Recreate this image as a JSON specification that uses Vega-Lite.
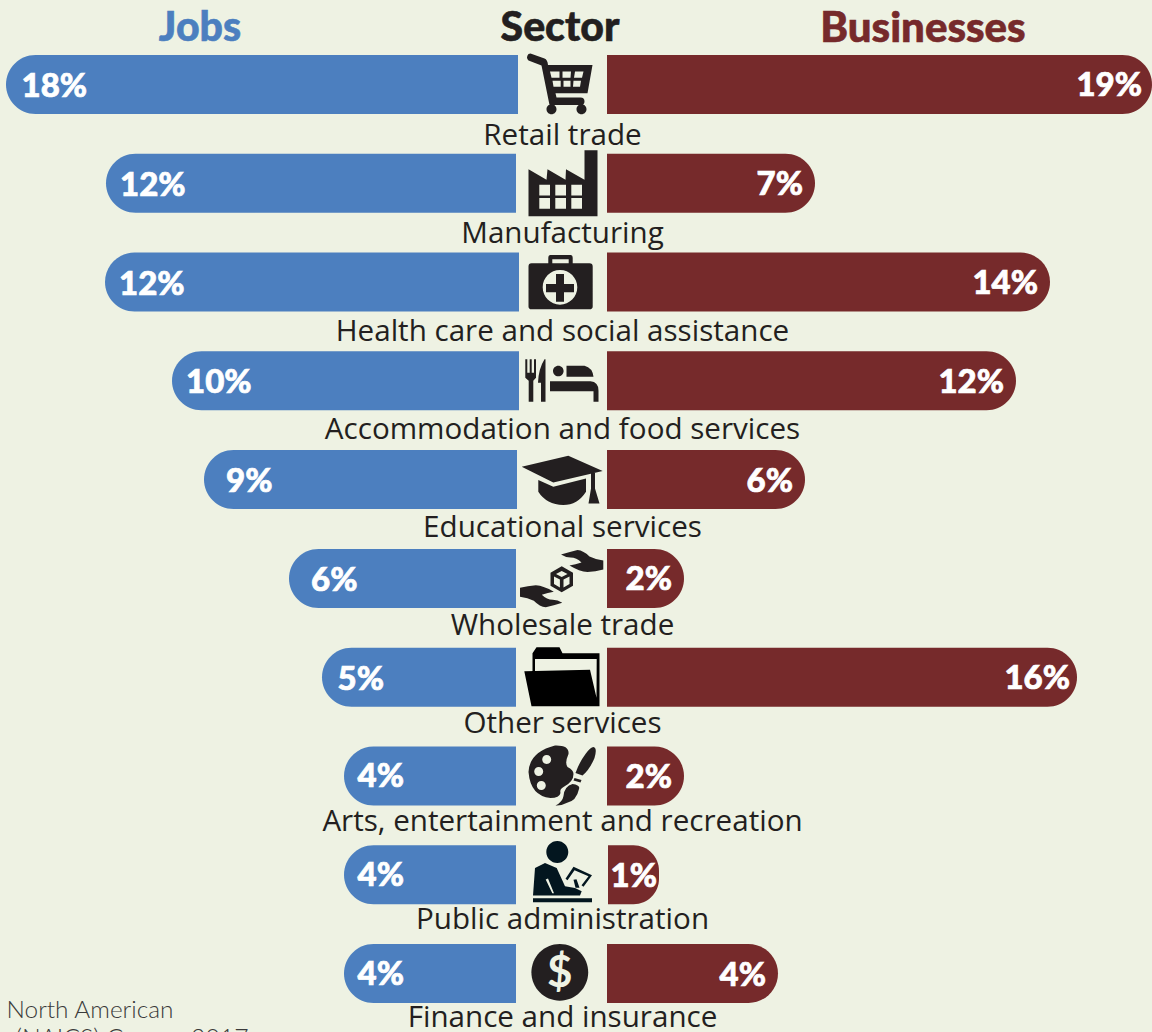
{
"$schema":"https://vega.github.io/schema/vega-lite/v6.json",
"width":1152,"height":1032,"autosize":{"type":"none"},"padding":0,
"background":"#EEF2E3",
"config":{"view":{"stroke":null}},
"data":{"values":[
{"sector":"Retail trade","jobs":"18%","businesses":"19%","jobs_start":-44.5,"jobs_end":-556.5,"biz_start":44.5,"biz_end":589.5},
{"sector":"Manufacturing","jobs":"12%","businesses":"7%","jobs_start":-46.5,"jobs_end":-456.5,"biz_start":44.5,"biz_end":252.5},
{"sector":"Health care and social assistance","jobs":"12%","businesses":"14%","jobs_start":-43.5,"jobs_end":-457.5,"biz_start":44.5,"biz_end":487.5},
{"sector":"Accommodation and food services","jobs":"10%","businesses":"12%","jobs_start":-43.5,"jobs_end":-390.5,"biz_start":44.5,"biz_end":453.5},
{"sector":"Educational services","jobs":"9%","businesses":"6%","jobs_start":-45.5,"jobs_end":-358.5,"biz_start":44.5,"biz_end":242.5},
{"sector":"Wholesale trade","jobs":"6%","businesses":"2%","jobs_start":-46.5,"jobs_end":-273.5,"biz_start":44.5,"biz_end":121.5},
{"sector":"Other services","jobs":"5%","businesses":"16%","jobs_start":-46.5,"jobs_end":-240.5,"biz_start":44.5,"biz_end":514.5},
{"sector":"Arts, entertainment and recreation","jobs":"4%","businesses":"2%","jobs_start":-46.5,"jobs_end":-218.5,"biz_start":44.5,"biz_end":121.5},
{"sector":"Public administration","jobs":"4%","businesses":"1%","jobs_start":-46.5,"jobs_end":-218.5,"biz_start":45.5,"biz_end":96.5},
{"sector":"Finance and insurance","jobs":"4%","businesses":"4%","jobs_start":-46.5,"jobs_end":-218.5,"biz_start":44.5,"biz_end":215.5}
]},
"resolve":{"scale":{"y":"independent"}},
"layer":[
{
"encoding":{"y":{"field":"sector","type":"nominal","axis":null,"scale":{"type":"band","paddingInner":0,"paddingOuter":0,"range":[35.11,1022.9],"domain":["Retail trade","Manufacturing","Health care and social assistance","Accommodation and food services","Educational services","Wholesale trade","Other services","Arts, entertainment and recreation","Public administration","Finance and insurance"]}}},
"layer":[
{"mark":{"type":"bar","size":59,"color":"#4C7FBF","cornerRadiusTopLeft":29.5,"cornerRadiusBottomLeft":29.5},
 "encoding":{"x":{"field":"jobs_end","type":"quantitative","axis":null,"scale":{"domain":[-562.5,589.5],"range":[0,1152],"nice":false,"zero":false}},"x2":{"field":"jobs_start"}}},
{"mark":{"type":"bar","size":59,"color":"#762A2B","cornerRadiusTopRight":29.5,"cornerRadiusBottomRight":29.5},
 "encoding":{"x":{"field":"biz_start","type":"quantitative","axis":null},"x2":{"field":"biz_end"}}},
{"transform":[{"filter":"datum.jobs!='10%' && datum.jobs!='9%' && datum.jobs!='6%' && datum.jobs!='4%' && datum.sector!='Manufacturing' && datum.sector!='Health care and social assistance'"}],
 "mark":{"type":"text","align":"left","baseline":"middle","dx":15.5,"dy":2.5,"font":"Lato","fontWeight":900,"fontSize":33,"color":"#FFFFFF","stroke":"#FFFFFF","strokeWidth":0.7},
 "encoding":{"x":{"field":"jobs_end","type":"quantitative","axis":null},"text":{"field":"jobs"}}},
{"transform":[{"filter":"datum.jobs=='12%' || datum.jobs=='10%'"}],
 "mark":{"type":"text","align":"left","baseline":"middle","dx":14,"dy":2.5,"font":"Lato","fontWeight":900,"fontSize":33,"color":"#FFFFFF","stroke":"#FFFFFF","strokeWidth":0.7},
 "encoding":{"x":{"field":"jobs_end","type":"quantitative","axis":null},"text":{"field":"jobs"}}},
{"transform":[{"filter":"datum.jobs=='4%'"}],
 "mark":{"type":"text","align":"left","baseline":"middle","dx":13.5,"dy":1.5,"font":"Lato","fontWeight":900,"fontSize":33,"color":"#FFFFFF","stroke":"#FFFFFF","strokeWidth":0.7},
 "encoding":{"x":{"field":"jobs_end","type":"quantitative","axis":null},"text":{"field":"jobs"}}},
{"transform":[{"filter":"datum.jobs=='9%' || datum.jobs=='6%'"}],
 "mark":{"type":"text","align":"left","baseline":"middle","dx":22,"dy":2.5,"font":"Lato","fontWeight":900,"fontSize":33,"color":"#FFFFFF","stroke":"#FFFFFF","strokeWidth":0.7},
 "encoding":{"x":{"field":"jobs_end","type":"quantitative","axis":null},"text":{"field":"jobs"}}},
{"transform":[{"filter":"datum.businesses!='16%' && datum.businesses!='1%' && datum.businesses!='19%'"}],
 "mark":{"type":"text","align":"right","baseline":"middle","dx":-12,"dy":2,"font":"Lato","fontWeight":900,"fontSize":33,"color":"#FFFFFF","stroke":"#FFFFFF","strokeWidth":0.7},
 "encoding":{"x":{"field":"biz_end","type":"quantitative","axis":null},"text":{"field":"businesses"}}},
{"transform":[{"filter":"datum.businesses=='19%'"}],
 "mark":{"type":"text","align":"right","baseline":"middle","dx":-10,"dy":2,"font":"Lato","fontWeight":900,"fontSize":33,"color":"#FFFFFF","stroke":"#FFFFFF","strokeWidth":0.7},
 "encoding":{"x":{"field":"biz_end","type":"quantitative","axis":null},"text":{"field":"businesses"}}},
{"transform":[{"filter":"datum.businesses=='16%'"}],
 "mark":{"type":"text","align":"right","baseline":"middle","dx":-7,"dy":2,"font":"Lato","fontWeight":900,"fontSize":33,"color":"#FFFFFF","stroke":"#FFFFFF","strokeWidth":0.7},
 "encoding":{"x":{"field":"biz_end","type":"quantitative","axis":null},"text":{"field":"businesses"}}},
{"transform":[{"filter":"datum.businesses=='1%'"}],
 "mark":{"type":"text","align":"right","baseline":"middle","dx":-2,"dy":2,"font":"Lato","fontWeight":900,"fontSize":33,"color":"#FFFFFF","stroke":"#FFFFFF","strokeWidth":0.7},
 "encoding":{"x":{"field":"biz_end","type":"quantitative","axis":null},"text":{"field":"businesses"}}},
{"mark":{"type":"point","filled":true,"size":4,"opacity":1,"strokeWidth":0},
 "encoding":{"x":{"datum":0,"type":"quantitative","axis":null},
  "color":{"field":"sector","type":"nominal","legend":null,"scale":{"domain":["Retail trade","Manufacturing","Health care and social assistance","Accommodation and food services","Educational services","Wholesale trade","Other services","Arts, entertainment and recreation","Public administration","Finance and insurance"],"range":["#231F20","#231F20","#231F20","#231F20","#231F20","#231F20","#000000","#231F20","#03161F","#231F20"]}},
  "shape":{"field":"sector","type":"nominal","legend":null,"scale":{"domain":["Retail trade","Manufacturing","Health care and social assistance","Accommodation and food services","Educational services","Wholesale trade","Other services","Arts, entertainment and recreation","Public administration","Finance and insurance"],"range":[
"M-34,-30.5 L-32,-31 L-18,-26 Q-15,-25 -14.5,-19.5 L30,-19.5 L25,8.7 L-7,8.7 L-6,13 L18,13 Q22,13 22,17 Q22,20.5 18,20.5 L-13,20.5 L-21,-19 L-34,-24 Q-37,-27 -34,-30.5 Z M-12.5,-13 L-11,-6.8 L-3,-6.8 L-3,-13 Z M0,-13 L0,-6.8 L8,-6.8 L8.5,-13 Z M12.5,-13 L11.5,-6.8 L19.5,-6.8 L21,-13 Z M-10,-3.8 L-9,2.2 L-1.8,2.2 L-1.8,-3.8 Z M1,-3.8 L1,2.2 L8,2.2 L8,-3.8 Z M11,-3.8 L10.5,2.2 L17.5,2.2 L18.5,-3.8 Z M-16,24.8 A5,5 0 1 1 -6,24.8 A5,5 0 1 1 -16,24.8 Z M14,24.8 A5,5 0 1 1 24,24.8 A5,5 0 1 1 14,24.8 Z",
"M-34,33 L-34,-14 L-16,-3.5 L-15,-14 L3,-3.5 L3.5,-14 L22,-3.5 L22,-33 L35,-33 L35,33 Z M-23.2,1.5 L-23.2,12.2 L-12.5,12.2 L-12.5,1.5 Z M-7.2,1.5 L-7.2,12.2 L3.5,12.2 L3.5,1.5 Z M8.8,1.5 L8.8,12.2 L19.5,12.2 L19.5,1.5 Z M-23.2,14.8 L-23.2,25.5 L-12.5,25.5 L-12.5,14.8 Z M-7.2,14.8 L-7.2,25.5 L3.5,25.5 L3.5,14.8 Z M8.8,14.8 L8.8,25.5 L19.5,25.5 L19.5,14.8 Z",
"M-31,-18.7 L27,-18.7 Q30.2,-18.7 30.2,-15.5 L30.2,24.5 Q30.2,27.3 27,27.3 L-31,27.3 Q-34,27.3 -34,24.5 L-34,-15.5 Q-34,-18.7 -31,-18.7 Z M-19.8,5.3 A17.3,17.3 0 1 0 14.8,5.3 A17.3,17.3 0 1 0 -19.8,5.3 Z M-6.5,-8 L1.5,-8 L1.5,2 L11.5,2 L11.5,10.3 L1.5,10.3 L1.5,19.7 L-6.5,19.7 L-6.5,10.3 L-16.5,10.3 L-16.5,2 L-6.5,2 Z M-12,-27 L8,-27 Q10.2,-27 10.2,-24 L10.2,-18 L-14.2,-18 L-14.2,-24 Q-14.2,-27 -12,-27 Z M-10.2,-22.7 L-10.2,-18.7 L6.2,-18.7 L6.2,-22.7 Z",
"M-37.2,-21.5 L-35.2,-21.5 L-35.2,-8 L-32.8,-8 L-32.8,-21.5 L-30.8,-21.5 L-30.8,-8 L-28.5,-8 L-28.5,-21.5 L-26.5,-21.5 L-26.5,-3 L-29.2,0 L-29.2,21 L-33.8,21 L-33.8,0 L-37.2,-3 Z M-18,-21.5 Q-24,-12 -24.5,2 L-21.5,2 L-21.5,21 L-17,21 L-17,-21.5 Z M-9.5,-9.8 A5.3,5.3 0 1 1 1.1,-9.8 A5.3,5.3 0 1 1 -9.5,-9.8 Z M4,-15 L22,-15 Q30,-13 31,-4 L4,-4 Z M-12.5,0.5 L28,0.5 Q36,1 36,10 L36,21 L31,21 L31,10.5 L-12.5,10.5 Z",
"M-40.8,-12.8 L5.8,-23.8 L40.2,-8.5 L-9.2,2.8 Z M-24.2,0.5 L-9.2,7.2 L23.5,-1.2 L23.5,12.2 Q15,25.5 0.8,25.5 Q-16,25 -24.2,12.2 Z M28.5,-6.5 L32.5,-8 L32.5,9 L37,24 L26,24 L28.5,9 Z",
"M-1.5,-24 Q8,-27 15,-28.5 Q21,-28 27,-22 Q33,-19 40.8,-18 L40.8,-9 Q33,-7 25,-6.5 Q17,-7 7,-13 Q13,-14 19,-16 Q14,-21 8,-21 Q3,-21 -1.5,-24 Z M-0.2,24.4 Q-9.7,27.4 -16.7,28.9 Q-22.7,28.4 -28.7,22.4 Q-34.7,19.4 -42.5,18.4 L-42.5,9.4 Q-34.7,7.4 -26.7,6.9 Q-18.7,7.4 -8.7,13.4 Q-14.7,14.4 -20.7,16.4 Q-15.7,21.4 -9.7,21.4 Q-4.7,21.4 -0.2,24.4 Z M-0.8,-12.2 L10.5,-5.7 L10.5,7.3 L-0.8,13.8 L-12,7.3 L-12,-5.7 Z M-0.8,-7.5 L-6.5,-4.5 L-0.8,-1.5 L5,-4.5 Z M-8.5,-2 L-8.5,5.5 L-2.6,9 L-2.6,1 Z M1,1 L1,9 L7,5.5 L7,-2 Z",
"M-38.2,-6 L27.5,-7.5 L36,29 L-31,29 Z M-30,-6 L-30,-24 L-26,-30 L-3,-30 L0,-24 L37,-24 L37,29 L-30,29 Z M-27.5,-18.2 L-27.5,-6 L27,-6 L34,22 L34.2,-18.2 Z",
"M-34,-4 Q-33,-24 -7.5,-30.5 Q7,-31 6,-22 Q2,-13 5,-9 Q11,-6 11,-2 Q11,6 1,11 Q-3,13 -2,17 Q-3,22 -12,22 Q-32,20 -34,-4 Z M-20.3,-16.5 A4.5,4.5 0 1 0 -11.3,-16.5 A4.5,4.5 0 1 0 -20.3,-16.5 Z M-28.3,-4.5 A4.5,4.5 0 1 0 -19.3,-4.5 A4.5,4.5 0 1 0 -28.3,-4.5 Z M-25.7,9.5 A4.5,4.5 0 1 0 -16.7,9.5 A4.5,4.5 0 1 0 -25.7,9.5 Z M31,-29 Q35,-28 32,-18 Q27,-6 20,-0.5 L13,-3 Q17,-14 23,-22 Q28,-29 31,-29 Z M12,2 L19,4 L18,6.5 L11,4.5 Z M10,8 Q18,9 16.5,13 Q14,25 4,27 Q-2,30 -7,29.5 Q0,26 1,20 Q2,10 10,8 Z",
"M-16.2,-22.8 A11,11 0 1 1 5.8,-22.8 A11,11 0 1 1 -16.2,-22.8 Z M-29.5,23.5 L29.5,23.5 L29.5,27.5 L-29.5,27.5 Z M-29.5,20.8 L-27.5,-6.8 L-17.5,-11.8 L-5.8,-6.8 L2.5,11.5 L12.5,13.2 L19.2,16.5 L17.5,20.8 Z M-16.8,4.8 L-10.2,18.5 L-8.5,18.5 L-14.5,3.8 Z M3,4 L11,-8 L29.5,0.5 L21,12 L19,10.5 L26,1.5 L12,-4.5 L5,5.5 Z M11,5 L14,4.5 L17,13 L13,13 Z",
"M-31.1,-1.2 A28.4,28.4 0 1 1 25.7,-1.2 A28.4,28.4 0 1 1 -31.1,-1.2 Z"
]}}}},
{"transform":[{"filter":"datum.sector=='Finance and insurance'"}],
 "mark":{"type":"text","text":"$","align":"center","baseline":"middle","font":"Lato","fontWeight":700,"fontSize":44,"color":"#EEF2E3"},
 "encoding":{"x":{"datum":-2.7,"type":"quantitative","axis":null}}},
{"data":{"values":[{"label":"Jobs","at":-362.5}]},
 "mark":{"type":"text","align":"center","baseline":"middle","dy":-55,"font":"Lato","fontWeight":900,"fontSize":41,"color":"#4C7FBF","stroke":"#4C7FBF","strokeWidth":0.6},
 "encoding":{"x":{"field":"at","type":"quantitative","axis":null},"y":{"datum":"Retail trade","type":"nominal"},"text":{"field":"label"}}},
{"data":{"values":[{"label":"Sector","at":-2.5}]},
 "mark":{"type":"text","align":"center","baseline":"middle","dy":-55,"font":"Lato","fontWeight":900,"fontSize":41,"color":"#231F20","stroke":"#231F20","strokeWidth":0.6},
 "encoding":{"x":{"field":"at","type":"quantitative","axis":null},"y":{"datum":"Retail trade","type":"nominal"},"text":{"field":"label"}}},
{"data":{"values":[{"label":"Businesses","at":360.5}]},
 "mark":{"type":"text","align":"center","baseline":"middle","dy":-55,"font":"Lato","fontWeight":900,"fontSize":42,"color":"#762A2B","stroke":"#762A2B","strokeWidth":0.6},
 "encoding":{"x":{"field":"at","type":"quantitative","axis":null},"y":{"datum":"Retail trade","type":"nominal"},"text":{"field":"label"}}},
{"data":{"values":[{"line":"North American","at":-556}]},
 "mark":{"type":"text","align":"left","baseline":"middle","dy":37,"font":"Lato","fontWeight":300,"fontSize":24.4,"color":"#3A3A3A"},
 "encoding":{"x":{"field":"at","type":"quantitative","axis":null},"y":{"datum":"Finance and insurance","type":"nominal"},"text":{"field":"line"}}},
{"data":{"values":[{"line":"(NAICS) Census 2017","at":-547}]},
 "mark":{"type":"text","align":"left","baseline":"middle","dy":66,"font":"Lato","fontWeight":300,"fontSize":24.8,"color":"#3A3A3A"},
 "encoding":{"x":{"field":"at","type":"quantitative","axis":null},"y":{"datum":"Finance and insurance","type":"nominal"},"text":{"field":"line"}}}
]},
{"mark":{"type":"text","align":"center","baseline":"middle","font":"Open Sans","fontSize":29.6,"fontWeight":400,"color":"#231F20"},
 "encoding":{"x":{"datum":0,"type":"quantitative","axis":null},
  "y":{"field":"sector","type":"nominal","axis":null,"scale":{"type":"band","paddingInner":0,"paddingOuter":0,"range":[86.45,1067.45],"domain":["Retail trade","Manufacturing","Health care and social assistance","Accommodation and food services","Educational services","Wholesale trade","Other services","Arts, entertainment and recreation","Public administration","Finance and insurance"]}},
  "text":{"field":"sector"}}}
]
}
